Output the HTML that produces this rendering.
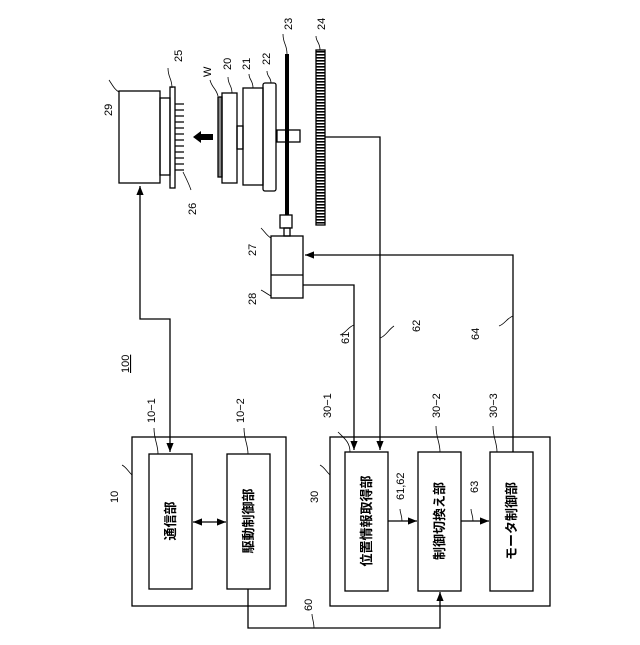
<!DOCTYPE html>
<html><head><meta charset="utf-8"><style>
body{margin:0;background:#fff}
svg text{font-family:"Liberation Sans","Noto Sans CJK JP",sans-serif;fill:#000}
</style></head><body>
<svg width="640" height="640" viewBox="0 0 640 640" xmlns="http://www.w3.org/2000/svg">
<defs>
<marker id="a" viewBox="0 0 10 10" refX="10" refY="5" markerWidth="7" markerHeight="7" orient="auto-start-reverse"><path d="M0,1 L10,5 L0,9 z" fill="#000"/></marker>
<pattern id="h" width="10" height="3" patternUnits="userSpaceOnUse"><rect width="10" height="3" fill="#fff"/><rect width="10" height="1.6" fill="#000"/></pattern>
</defs>
<g fill="none" stroke="#000" stroke-width="1.3">
<rect x="119" y="91" width="41" height="92" fill="#fff"/>
<rect x="160" y="98" width="10" height="77"/>
<rect x="170" y="87" width="5" height="101"/>
<path d="M175,104h9M175,110h9M175,116h9M175,122h9M175,128h9M175,134h9M175,140h9M175,146h9M175,152h9M175,158h9M175,164h9M175,170h9"/>
<rect x="218" y="97" width="4" height="80" fill="#888"/>
<rect x="222" y="93" width="15" height="90"/>
<rect x="237" y="126" width="6" height="23"/>
<rect x="243" y="88" width="20" height="97"/>
<rect x="263" y="83" width="13" height="108" rx="2"/>
<rect x="277" y="130" width="23" height="12" fill="#fff"/>
<rect x="316" y="50" width="9" height="175" fill="url(#h)"/>
<rect x="284" y="228" width="6" height="8"/>
<rect x="280" y="215" width="12" height="13"/>
<rect x="271" y="236" width="32" height="62"/>
<line x1="271" y1="275" x2="303" y2="275"/>
<polyline points="325,137 380,137 380,450" marker-end="url(#a)"/>
<polyline points="303,285 354,285 354,450" marker-end="url(#a)"/>
<polyline points="513,452 513,255 305,255" marker-end="url(#a)"/>
<polyline points="170,452 170,319 140,319 140,186" marker-end="url(#a)" marker-start="url(#a)"/>
<rect x="132" y="437" width="154" height="169"/>
<rect x="149" y="454" width="43" height="135"/>
<rect x="227" y="454" width="43" height="135"/>
<line x1="193" y1="522" x2="226" y2="522" marker-end="url(#a)" marker-start="url(#a)"/>
<rect x="330" y="437" width="220" height="169"/>
<rect x="345" y="452" width="43" height="139"/>
<rect x="418" y="452" width="43" height="139"/>
<rect x="490" y="452" width="43" height="139"/>
<line x1="388" y1="521" x2="417" y2="521" marker-end="url(#a)"/>
<line x1="461" y1="521" x2="489" y2="521" marker-end="url(#a)"/>
<polyline points="248,589 248,628 440,628 440,592" marker-end="url(#a)"/>
</g>
<g fill="none" stroke="#000" stroke-width="0.8">
<path d="M172,88 c0,-10 -4,-10 -4,-20"/>
<path d="M218,96 c-2,-8 -6,-8 -8,-16"/>
<path d="M232,93 c0,-8 -4,-8 -4,-16"/>
<path d="M253,88 c0,-8 -4,-8 -4,-14"/>
<path d="M271,83 c0,-6 -4,-6 -4,-12"/>
<path d="M287,54 c0,-10 -4,-10 -4,-20"/>
<path d="M320,50 c0,-8 -4,-8 -4,-14"/>
<path d="M119,92 c-4,-2 -6,-6 -10,-12"/>
<path d="M183,172 c4,8 6,12 8,18"/>
<path d="M271,238 c-4,-2 -6,-6 -10,-10"/>
<path d="M271,296 c-4,-2 -6,-4 -10,-6"/>
<path d="M354,325 c-6,2 -8,8 -14,10"/>
<path d="M380,338 c6,-2 8,-8 14,-12"/>
<path d="M513,316 c-6,2 -8,8 -14,10"/>
<path d="M132,475 c-4,-4 -6,-8 -10,-10"/>
<path d="M158,454 c0,-10 -4,-14 -4,-26"/>
<path d="M248,454 c0,-10 -4,-14 -4,-26"/>
<path d="M350,452 c0,-10 -6,-14 -12,-20"/>
<path d="M440,452 c0,-10 -4,-14 -4,-26"/>
<path d="M497,452 c0,-10 -4,-14 -4,-26"/>
<path d="M330,475 c-4,-4 -6,-8 -10,-10"/>
<path d="M402,521 c0,-6 -2,-8 -2,-12"/>
<path d="M473,521 c0,-6 -2,-8 -2,-12"/>
<path d="M314,628 c0,-6 -2,-10 -2,-14"/>
</g>
<rect x="285" y="54" width="4" height="161" fill="#000"/>
<path d="M193,137 l8,-6 v3 h12 v6 h-12 v3 z" fill="#000"/>
<g font-size="11">
<text transform="translate(182,62) rotate(-90)">25</text>
<text transform="translate(211,77) rotate(-90)">W</text>
<text transform="translate(231,70) rotate(-90)">20</text>
<text transform="translate(250,70) rotate(-90)">21</text>
<text transform="translate(270,65) rotate(-90)">22</text>
<text transform="translate(292,30) rotate(-90)">23</text>
<text transform="translate(325,30) rotate(-90)">24</text>
<text transform="translate(112,116) rotate(-90)">29</text>
<text transform="translate(196,215) rotate(-90)">26</text>
<text transform="translate(256,256) rotate(-90)">27</text>
<text transform="translate(256,305) rotate(-90)">28</text>
<text transform="translate(349,344) rotate(-90)">61</text>
<text transform="translate(420,332) rotate(-90)">62</text>
<text transform="translate(479,340) rotate(-90)">64</text>
<text transform="translate(129,373) rotate(-90)" text-decoration="underline">100</text>
<text transform="translate(118,503) rotate(-90)">10</text>
<text transform="translate(155,423) rotate(-90)">10−1</text>
<text transform="translate(244,423) rotate(-90)">10−2</text>
<text transform="translate(318,503) rotate(-90)">30</text>
<text transform="translate(331,418) rotate(-90)">30−1</text>
<text transform="translate(440,418) rotate(-90)">30−2</text>
<text transform="translate(497,418) rotate(-90)">30−3</text>
<text transform="translate(404,500) rotate(-90)">61,62</text>
<text transform="translate(478,493) rotate(-90)">63</text>
<text transform="translate(312,611) rotate(-90)">60</text>
</g>
<g font-size="13" font-weight="bold" text-anchor="middle">
<text transform="translate(175,521) rotate(-90)">通信部</text>
<text transform="translate(253,521) rotate(-90)">駆動制御部</text>
<text transform="translate(371,521) rotate(-90)">位置情報取得部</text>
<text transform="translate(444,521) rotate(-90)">制御切換え部</text>
<text transform="translate(516,521) rotate(-90)">モータ制御部</text>
</g>
</svg>
</body></html>
